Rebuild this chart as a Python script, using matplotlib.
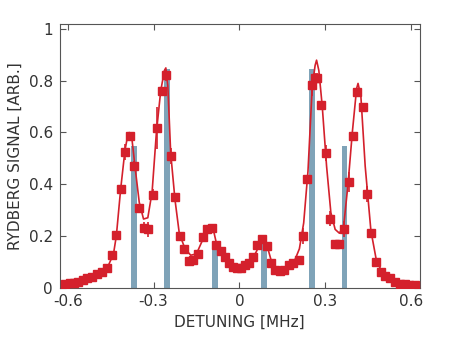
import matplotlib
matplotlib.use("Agg")
import matplotlib.pyplot as plt

# measured data (detuning in MHz, signal arb.)
data_x = [-0.609, -0.592, -0.578, -0.563, -0.547, -0.531, -0.516, -0.498, -0.481, -0.463,
          -0.445, -0.431, -0.415, -0.399, -0.384, -0.367, -0.352, -0.335, -0.319, -0.303,
          -0.288, -0.271, -0.256, -0.240, -0.224, -0.207, -0.192, -0.177, -0.161, -0.144,
          -0.128, -0.114, -0.096, -0.082, -0.065, -0.049, -0.035, -0.021, -0.007, 0.005,
          0.019, 0.033, 0.047, 0.061, 0.079, 0.096, 0.109, 0.126, 0.142, 0.156,
          0.172, 0.189, 0.207, 0.221, 0.238, 0.254, 0.266, 0.273, 0.287, 0.303,
          0.317, 0.333, 0.349, 0.366, 0.382, 0.398, 0.412, 0.431, 0.445, 0.461,
          0.478, 0.494, 0.510, 0.526, 0.543, 0.561, 0.578, 0.594, 0.614]
data_y = [0.013, 0.017, 0.019, 0.022, 0.028, 0.035, 0.039, 0.054, 0.061, 0.077,
          0.125, 0.203, 0.380, 0.525, 0.588, 0.470, 0.306, 0.232, 0.225, 0.360,
          0.617, 0.761, 0.821, 0.510, 0.350, 0.201, 0.150, 0.103, 0.105, 0.131,
          0.195, 0.225, 0.230, 0.165, 0.143, 0.117, 0.096, 0.081, 0.075, 0.077,
          0.086, 0.093, 0.119, 0.164, 0.186, 0.161, 0.093, 0.067, 0.065, 0.067,
          0.086, 0.093, 0.108, 0.200, 0.419, 0.783, 0.810, 0.812, 0.706, 0.521,
          0.267, 0.170, 0.168, 0.227, 0.408, 0.586, 0.755, 0.697, 0.361, 0.211,
          0.099, 0.059, 0.046, 0.035, 0.022, 0.015, 0.013, 0.009, 0.009]
data_err = [0.005, 0.005, 0.005, 0.005, 0.005, 0.005, 0.005, 0.006, 0.006, 0.008,
            0.010, 0.012, 0.015, 0.030, 0.015, 0.020, 0.012, 0.020, 0.030, 0.020,
            0.080, 0.015, 0.020, 0.030, 0.012, 0.010, 0.010, 0.010, 0.010, 0.010,
            0.015, 0.010, 0.010, 0.012, 0.008, 0.008, 0.006, 0.006, 0.006, 0.006,
            0.006, 0.006, 0.008, 0.012, 0.010, 0.010, 0.008, 0.006, 0.006, 0.006,
            0.008, 0.008, 0.010, 0.030, 0.015, 0.040, 0.020, 0.020, 0.015, 0.030,
            0.030, 0.012, 0.010, 0.030, 0.040, 0.015, 0.015, 0.015, 0.030, 0.012,
            0.010, 0.006, 0.006, 0.005, 0.005, 0.005, 0.005, 0.005, 0.005]

# fitted curve
fit_x = [-0.615, -0.55, -0.50, -0.46, -0.44, -0.43, -0.415, -0.40, -0.39, -0.385,
         -0.375, -0.365, -0.35, -0.335, -0.32, -0.305, -0.29, -0.275, -0.262, -0.257,
         -0.25, -0.24, -0.225, -0.21, -0.19, -0.17, -0.15, -0.13, -0.115, -0.10,
         -0.09, -0.08, -0.06, -0.04, -0.02, 0.0, 0.02, 0.04, 0.06, 0.075,
         0.085, 0.095, 0.11, 0.13, 0.15, 0.17, 0.19, 0.21, 0.225, 0.24,
         0.255, 0.265, 0.27, 0.278, 0.29, 0.305, 0.32, 0.335, 0.35, 0.365,
         0.38, 0.395, 0.41, 0.415, 0.425, 0.44, 0.46, 0.48, 0.50, 0.55, 0.62]
fit_y = [0.012, 0.027, 0.05, 0.08, 0.13, 0.20, 0.38, 0.53, 0.59, 0.60,
         0.57, 0.47, 0.33, 0.265, 0.27, 0.37, 0.60, 0.76, 0.84, 0.85,
         0.78, 0.52, 0.34, 0.21, 0.15, 0.125, 0.13, 0.18, 0.22, 0.235,
         0.22, 0.17, 0.13, 0.10, 0.085, 0.078, 0.085, 0.10, 0.14, 0.18,
         0.19, 0.17, 0.11, 0.075, 0.068, 0.075, 0.095, 0.15, 0.25, 0.45,
         0.78, 0.86, 0.88, 0.84, 0.70, 0.47, 0.29, 0.225, 0.21, 0.24,
         0.40, 0.60, 0.77, 0.79, 0.74, 0.47, 0.22, 0.10, 0.06, 0.025, 0.012]

# theory line positions / strengths
bar_x = [-0.368, -0.253, -0.085, 0.085, 0.253, 0.368]
bar_h = [0.547, 0.845, 0.16, 0.17, 0.845, 0.547]

x_ticks = [-0.6, -0.3, 0, 0.3, 0.6]
x_ticklabels = ["-0.6", "-0.3", "0", "0.3", "0.6"]
y_ticks = [0, 0.2, 0.4, 0.6, 0.8, 1]
y_ticklabels = ["0", "0.2", "0.4", "0.6", "0.8", "1"]

red = "#d4202c"
bar_color = "#7fa3b8"

fig = plt.figure(figsize=(4.63, 3.38), dpi=100)
ax = fig.add_axes([0.1296, 0.1494, 0.7765, 0.7796])

ax.bar(bar_x, bar_h, width=0.02, color=bar_color, zorder=1)
ax.plot(fit_x, fit_y, color=red, lw=1.2, zorder=2)
ax.errorbar(data_x, data_y, yerr=data_err, fmt="s", color=red, ms=6,
            elinewidth=1.2, capsize=0, zorder=3)

ax.set_xlim(-0.627, 0.63)
ax.set_ylim(0, 1.02)
ax.set_xticks(x_ticks)
ax.set_xticklabels(x_ticklabels)
ax.set_yticks(y_ticks)
ax.set_yticklabels(y_ticklabels)

for s in ax.spines.values():
    s.set_color("#555555")
    s.set_linewidth(0.8)
ax.tick_params(direction="in", top=True, right=True, length=4, width=0.8,
               color="#555555", labelcolor="#333333", labelsize=11, pad=5)
ax.set_xlabel("DETUNING [MHz]", fontsize=11, color="#333333", labelpad=4)
ax.set_ylabel("RYDBERG SIGNAL [ARB.]", fontsize=11, color="#333333", labelpad=4)

fig.savefig("out.png", dpi=100)
